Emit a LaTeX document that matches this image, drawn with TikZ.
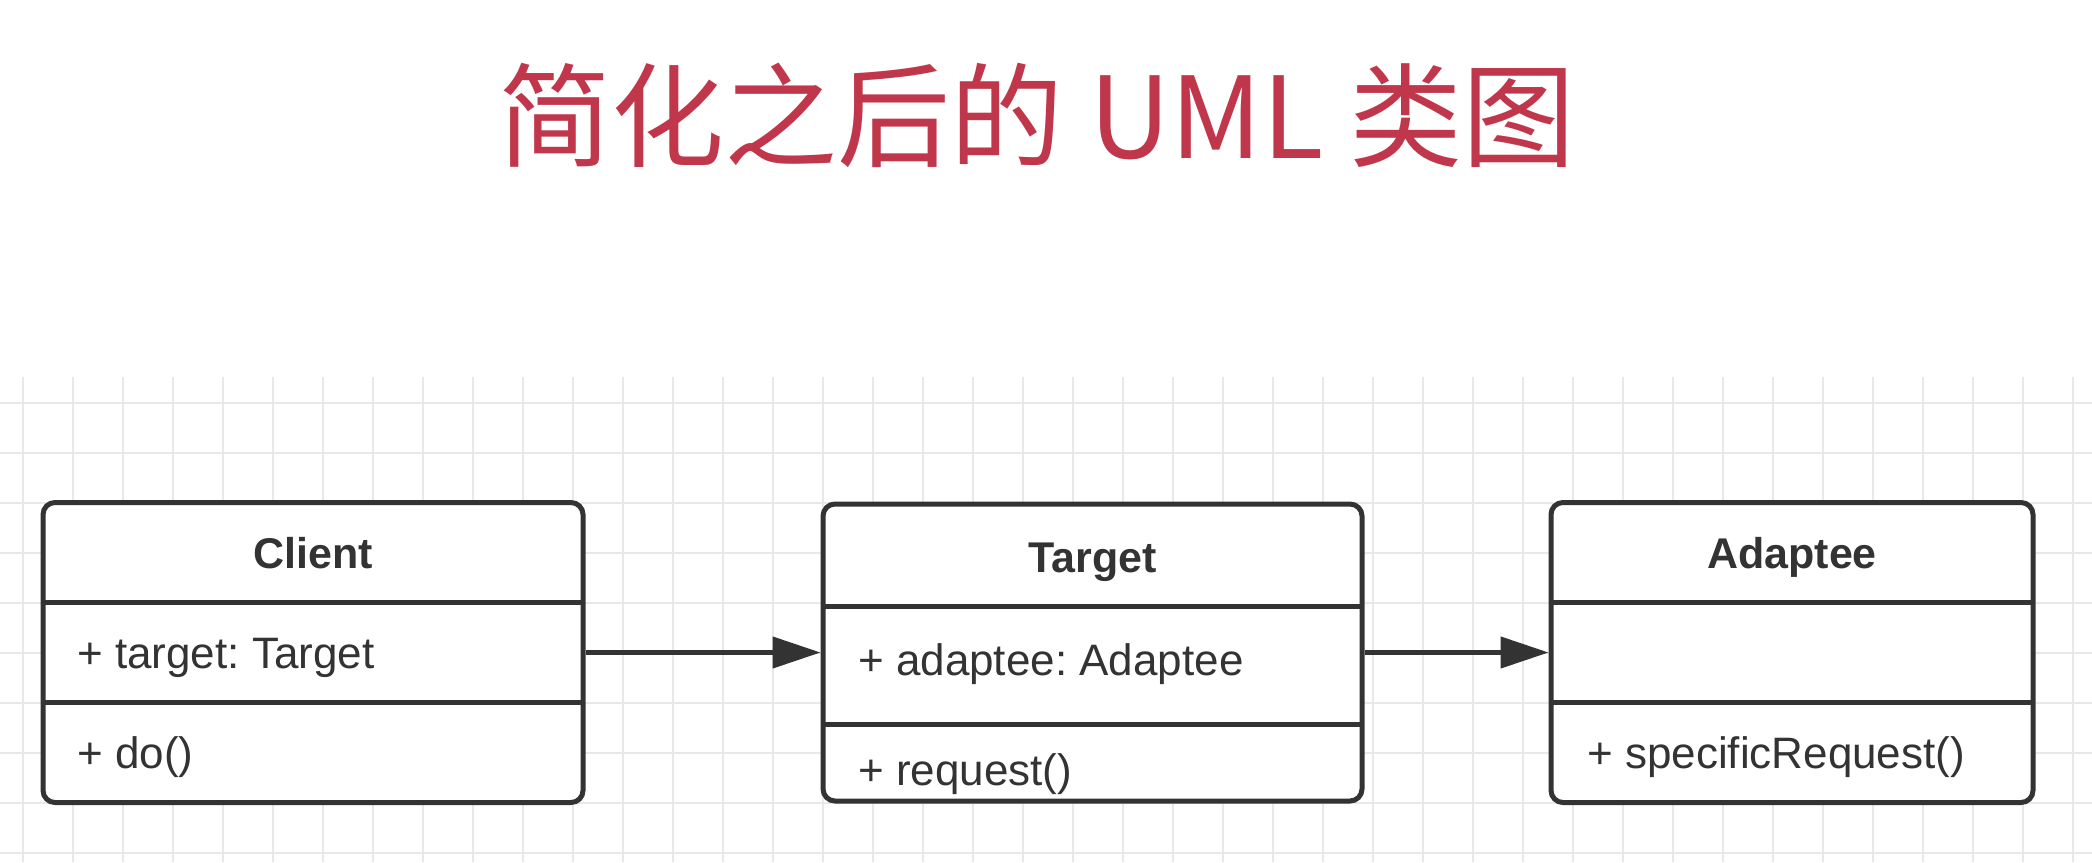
\documentclass[tikz,border=0pt]{standalone}
\usepackage{fontspec}
\setmainfont{Liberation Sans}
\newfontfamily\cjk{Noto Sans CJK SC}
\usetikzlibrary{arrows.meta}
\frenchspacing
\definecolor{titlered}{RGB}{192,54,75}
\definecolor{ink}{RGB}{51,51,51}
\definecolor{gridgray}{RGB}{232,232,232}
\tikzset{
  classbox/.style={draw=ink, line width=5pt, rounded corners=12pt, fill=white, inner sep=0pt},
  sepline/.style={draw=ink, line width=5pt},
  gridline/.style={draw=gridgray, line width=2.5pt},
  hdr/.style={anchor=base, inner sep=0pt, text=ink, font=\fontsize{43}{50}\selectfont\bfseries},
  member/.style={anchor=base west, inner sep=0pt, text=ink, font=\fontsize{44}{50}\selectfont},
  assoc/.style={draw=ink, line width=4.5pt, -{Triangle[length=48pt,width=31pt]}},
}
\begin{document}
\begin{tikzpicture}[x=1pt,y=-1pt]
\useasboundingbox (0,0) rectangle (2092,862);
\fill[white] (0,0) rectangle (2092,862);
% grid
\begin{scope}
\clip (0,377) rectangle (2092,862);
\foreach \i in {0,...,41} { \draw[gridline] ({23+50*\i},377) -- ({23+50*\i},862); }
\foreach \j in {0,...,9} { \draw[gridline] (0,{403+50*\j}) -- (2092,{403+50*\j}); }
\end{scope}
% title
\node[anchor=base, inner sep=0pt, text=titlered, font=\cjk\fontsize{113}{120}\selectfont] (title) at (1037,158) {简化之后的 UML 类图};
% Client
\node[classbox, minimum width=540pt, minimum height=300pt] (client) at (313,652.5) {};
\draw[sepline] (43,602) -- (583,602);
\draw[sepline] (43,702) -- (583,702);
\node[hdr] (clientname) at (313,568) {Client};
\node[member] (clientattr) at (77,668) {+ target: Target};
\node[member] (clientop) at (77,768) {+ do()};
% Target
\node[classbox, minimum width=539pt, minimum height=297pt] (target) at (1092.5,652.5) {};
\draw[sepline] (823,606) -- (1362,606);
\draw[sepline] (823,724) -- (1362,724);
\node[hdr] (targetname) at (1092.5,572) {Target};
\node[member] (targetattr) at (858,675) {+ adaptee: Adaptee};
\node[member] (targetop) at (858,785) {+ request()};
% Adaptee
\node[classbox, minimum width=482pt, minimum height=300pt] (adaptee) at (1792,652.5) {};
\draw[sepline] (1551,602) -- (2033,602);
\draw[sepline] (1551,702) -- (2033,702);
\node[hdr] (adapteename) at (1792,568) {Adaptee};
\node[member] (adapteeop) at (1587,768) {+ specificRequest()};
% connectors
\draw[assoc] (client.east) -- (target.west);
\draw[assoc] (target.east) -- (adaptee.west);
\end{tikzpicture}
\end{document}
